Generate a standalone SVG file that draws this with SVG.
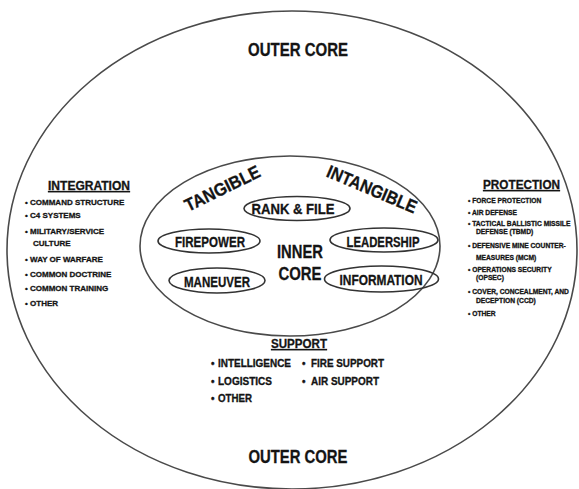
<svg xmlns="http://www.w3.org/2000/svg" width="579" height="489" viewBox="0 0 579 489">
  <style>
    .ring { fill: none; stroke: #4a4a4a; stroke-width: 1.6; }
    .pill { fill: none; stroke: #333; stroke-width: 1.6; }
    text { font-family: "Liberation Sans", Arial, sans-serif; font-weight: bold; fill: #141414; stroke: #141414; stroke-width: 0.3; }
    .big { font-size: 18px; text-anchor: middle; }
    .lbl { font-size: 14px; text-anchor: middle; }
    .head { font-size: 12px; text-anchor: middle; text-decoration: underline; }
    .it8 { font-size: 8px; }
    .it7 { font-size: 6.7px; }
    .it10 { font-size: 10px; }
  </style>

  <rect width="579" height="489" fill="#ffffff"/>

  <!-- outer ring -->
  <g id="outer-core">
    <ellipse class="ring" cx="292" cy="250" rx="285" ry="239"/>
    <text class="big" x="298" y="56" textLength="100" lengthAdjust="spacingAndGlyphs">OUTER CORE</text>
    <text class="big" x="298" y="463" textLength="99" lengthAdjust="spacingAndGlyphs">OUTER CORE</text>
  </g>

  <!-- inner ring -->
  <g id="inner-core">
    <ellipse class="ring" cx="290" cy="246" rx="150" ry="90"/>
    <text class="big" x="300" y="258" textLength="46" lengthAdjust="spacingAndGlyphs">INNER</text>
    <text class="big" x="300" y="280" textLength="43" lengthAdjust="spacingAndGlyphs">CORE</text>
    <text class="big" transform="translate(225 194) rotate(-26)" textLength="82" lengthAdjust="spacingAndGlyphs">TANGIBLE</text>
    <text class="big" transform="translate(369.5 195) rotate(23)" textLength="96" lengthAdjust="spacingAndGlyphs">INTANGIBLE</text>
  </g>

  <g id="rank-file">
    <ellipse class="pill" cx="297" cy="208.5" rx="53" ry="12"/>
    <text class="lbl" x="293" y="214" textLength="83" lengthAdjust="spacingAndGlyphs">RANK &amp; FILE</text>
  </g>
  <g id="firepower">
    <ellipse class="pill" cx="209" cy="241" rx="51" ry="12"/>
    <text class="lbl" x="210" y="247" textLength="70" lengthAdjust="spacingAndGlyphs">FIREPOWER</text>
  </g>
  <g id="leadership">
    <ellipse class="pill" cx="384" cy="240" rx="54" ry="12"/>
    <text class="lbl" x="383" y="247" textLength="73" lengthAdjust="spacingAndGlyphs">LEADERSHIP</text>
  </g>
  <g id="maneuver">
    <ellipse class="pill" cx="217" cy="280.5" rx="48" ry="12.5"/>
    <text class="lbl" x="217" y="287" textLength="66" lengthAdjust="spacingAndGlyphs">MANEUVER</text>
  </g>
  <g id="information">
    <ellipse class="pill" cx="381.5" cy="279" rx="57" ry="13"/>
    <text class="lbl" x="381" y="285" textLength="83" lengthAdjust="spacingAndGlyphs">INFORMATION</text>
  </g>

  <!-- left list -->
  <g id="integration">
    <text class="head" x="89" y="190" textLength="82" lengthAdjust="spacingAndGlyphs">INTEGRATION</text>
    <g class="it8">
      <text x="25" y="205">•  COMMAND STRUCTURE</text>
      <text x="25" y="218">•  C4 SYSTEMS</text>
      <text x="25" y="234">•  MILITARY/SERVICE</text>
      <text x="33" y="246">CULTURE</text>
      <text x="25" y="262">•  WAY OF WARFARE</text>
      <text x="25" y="277">•  COMMON DOCTRINE</text>
      <text x="25" y="291">•  COMMON TRAINING</text>
      <text x="25" y="306">•  OTHER</text>
    </g>
  </g>

  <!-- right list -->
  <g id="protection">
    <text class="head" x="521.5" y="189" font-size="11.5" textLength="77" lengthAdjust="spacingAndGlyphs">PROTECTION</text>
    <g class="it7">
      <text x="468" y="202.5">•  FORCE PROTECTION</text>
      <text x="468" y="214.5">•  AIR DEFENSE</text>
      <text x="468" y="225.5">•  TACTICAL BALLISTIC MISSILE</text>
      <text x="476" y="233.5">DEFENSE (TBMD)</text>
      <text x="468" y="247.5">•  DEFENSIVE MINE COUNTER-</text>
      <text x="476" y="259.5">MEASURES (MCM)</text>
      <text x="468" y="271.5">•  OPERATIONS SECURITY</text>
      <text x="476" y="279.5">(OPSEC)</text>
      <text x="468" y="293.5">•  COVER, CONCEALMENT, AND</text>
      <text x="476" y="302.5">DECEPTION (CCD)</text>
      <text x="468" y="315.5">•  OTHER</text>
    </g>
  </g>

  <!-- bottom list -->
  <g id="support">
    <text class="head" x="299" y="348" font-size="11.5" textLength="56" lengthAdjust="spacingAndGlyphs">SUPPORT</text>
    <g class="it10">
      <text x="211" y="367">• <tspan x="218" textLength="73" lengthAdjust="spacingAndGlyphs">INTELLIGENCE</tspan></text>
      <text x="302" y="367">• <tspan x="311" textLength="73" lengthAdjust="spacingAndGlyphs">FIRE SUPPORT</tspan></text>
      <text x="211" y="385">• <tspan x="218" textLength="54" lengthAdjust="spacingAndGlyphs">LOGISTICS</tspan></text>
      <text x="302" y="385">• <tspan x="311" textLength="68" lengthAdjust="spacingAndGlyphs">AIR SUPPORT</tspan></text>
      <text x="211" y="402">• <tspan x="218" textLength="34" lengthAdjust="spacingAndGlyphs">OTHER</tspan></text>
    </g>
  </g>
</svg>
